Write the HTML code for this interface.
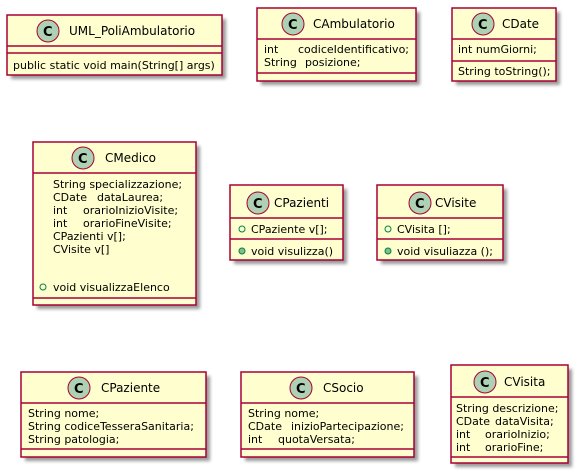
<!DOCTYPE html>
<html><head><meta charset="utf-8"><style>
html,body{margin:0;padding:0;background:#fff;}
svg{display:block;}
text{font-family:"DejaVu Sans","Liberation Sans",sans-serif;font-size:11px;fill:#000;}
.t{font-size:12px;}
.b{fill:#FEFECE;stroke:#A80036;stroke-width:1.5;}
.l{stroke:#A80036;stroke-width:1.5;}
.c{fill:#ADD1B2;stroke:#A80036;stroke-width:1;}
.cl{font-weight:bold;font-size:13px;}
.po{fill:none;stroke:#038048;stroke-width:1;}
.pf{fill:#84BE84;stroke:#038048;stroke-width:1;}
</style></head><body>
<svg width="578" height="474" viewBox="0 0 578 474" xmlns="http://www.w3.org/2000/svg">
<defs><filter id="f" x="-10%" y="-10%" width="130%" height="130%"><feGaussianBlur stdDeviation="1.5"/></filter></defs>

<rect x="11" y="19" width="215" height="60" fill="#999" filter="url(#f)"/>
<rect class="b" x="7" y="15" width="215" height="60"/>
<line class="l" x1="7" y1="46" x2="222" y2="46"/><line class="l" x1="7" y1="53" x2="222" y2="53"/>
<circle class="c" cx="48" cy="31" r="11"/><text class="cl" x="43" y="36">C</text>
<text class="t" x="69" y="35">UML_PoliAmbulatorio</text>
<text x="13" y="69">public static void main(String[] args)</text>

<rect x="261" y="12" width="159" height="73" fill="#999" filter="url(#f)"/>
<rect class="b" x="257" y="8" width="159" height="73"/>
<line class="l" x1="257" y1="39" x2="416" y2="39"/><line class="l" x1="257" y1="73" x2="416" y2="73"/>
<circle class="c" cx="293" cy="24" r="11"/><text class="cl" x="288" y="29">C</text>
<text class="t" x="313" y="28">CAmbulatorio</text>
<text x="264" y="53">int</text><text x="298" y="53">codiceIdentificativo;</text>
<text x="264" y="66">String</text><text x="305" y="66">posizione;</text>

<rect x="456" y="12" width="104" height="73" fill="#999" filter="url(#f)"/>
<rect class="b" x="452" y="8" width="104" height="73"/>
<line class="l" x1="452" y1="39" x2="556" y2="39"/><line class="l" x1="452" y1="61" x2="556" y2="61"/>
<circle class="c" cx="483" cy="24" r="11"/><text class="cl" x="478" y="29">C</text>
<text class="t" x="502" y="28">CDate</text>
<text x="458" y="53">int numGiorni;</text>
<text x="458" y="75">String toString();</text>

<rect x="37" y="146" width="163" height="163" fill="#999" filter="url(#f)"/>
<rect class="b" x="33" y="142" width="163" height="163"/>
<line class="l" x1="33" y1="173" x2="196" y2="173"/><line class="l" x1="33" y1="298" x2="196" y2="298"/>
<circle class="c" cx="83" cy="158" r="11"/><text class="cl" x="78" y="163">C</text>
<text class="t" x="105" y="162">CMedico</text>
<text x="53" y="188">String specializzazione;</text>
<text x="53" y="201">CDate</text><text x="97" y="201">dataLaurea;</text>
<text x="53" y="214">int</text><text x="83" y="214">orarioInizioVisite;</text>
<text x="53" y="227">int</text><text x="83" y="227">orarioFineVisite;</text>
<text x="53" y="240">CPazienti v[];</text>
<text x="53" y="253">CVisite v[]</text>
<circle class="po" cx="43" cy="287" r="3"/>
<text x="53" y="291">void visualizzaElenco</text>

<rect x="234" y="189" width="113" height="75" fill="#999" filter="url(#f)"/>
<rect class="b" x="230" y="185" width="113" height="75"/>
<line class="l" x1="230" y1="218" x2="343" y2="218"/><line class="l" x1="230" y1="239" x2="343" y2="239"/>
<circle class="c" cx="258" cy="203" r="11"/><text class="cl" x="253" y="208">C</text>
<text class="t" x="274" y="207">CPazienti</text>
<circle class="po" cx="242" cy="229" r="3"/><text x="251" y="233">CPaziente v[];</text>
<circle class="pf" cx="242" cy="251" r="3"/><text x="251" y="255">void visulizza()</text>

<rect x="381" y="189" width="126" height="75" fill="#999" filter="url(#f)"/>
<rect class="b" x="377" y="185" width="126" height="75"/>
<line class="l" x1="377" y1="218" x2="503" y2="218"/><line class="l" x1="377" y1="239" x2="503" y2="239"/>
<circle class="c" cx="420" cy="203" r="11"/><text class="cl" x="415" y="208">C</text>
<text class="t" x="435" y="207">CVisite</text>
<circle class="po" cx="388" cy="229" r="3"/><text x="397" y="233">CVisita [];</text>
<circle class="pf" cx="388" cy="251" r="3"/><text x="397" y="255">void visuliazza ();</text>

<rect x="25" y="376" width="185" height="85" fill="#999" filter="url(#f)"/>
<rect class="b" x="21" y="372" width="185" height="85"/>
<line class="l" x1="21" y1="403" x2="206" y2="403"/><line class="l" x1="21" y1="449" x2="206" y2="449"/>
<circle class="c" cx="79" cy="388" r="11"/><text class="cl" x="74" y="393">C</text>
<text class="t" x="101" y="392">CPaziente</text>
<text x="28" y="417">String nome;</text>
<text x="28" y="430">String codiceTesseraSanitaria;</text>
<text x="28" y="443">String patologia;</text>

<rect x="245" y="376" width="173" height="85" fill="#999" filter="url(#f)"/>
<rect class="b" x="241" y="372" width="173" height="85"/>
<line class="l" x1="241" y1="403" x2="414" y2="403"/><line class="l" x1="241" y1="449" x2="414" y2="449"/>
<circle class="c" cx="301" cy="388" r="11"/><text class="cl" x="296" y="393">C</text>
<text class="t" x="323" y="392">CSocio</text>
<text x="248" y="417">String nome;</text>
<text x="248" y="430">CDate</text><text x="291" y="430">inizioPartecipazione;</text>
<text x="248" y="443">int</text><text x="278" y="443">quotaVersata;</text>

<rect x="455" y="369" width="117" height="98" fill="#999" filter="url(#f)"/>
<rect class="b" x="451" y="365" width="117" height="98"/>
<line class="l" x1="451" y1="397" x2="568" y2="397"/><line class="l" x1="451" y1="457" x2="568" y2="457"/>
<circle class="c" cx="485" cy="382" r="11"/><text class="cl" x="480" y="387">C</text>
<text class="t" x="504" y="386">CVisita</text>
<text x="456" y="412">String descrizione;</text>
<text x="456" y="425">CDate</text><text x="495" y="425">dataVisita;</text>
<text x="456" y="438">int</text><text x="485" y="438">orarioInizio;</text>
<text x="456" y="451">int</text><text x="485" y="451">orarioFine;</text>
</svg>
</body></html>
